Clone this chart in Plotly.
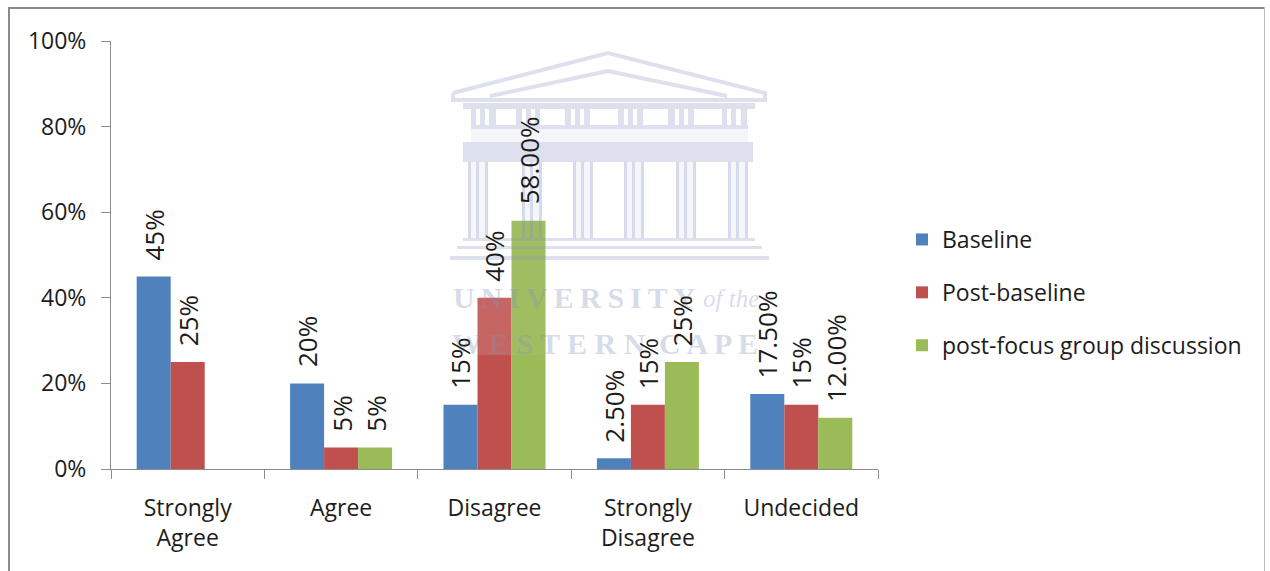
import plotly.graph_objects as go

categories = ["Strongly<br>Agree", "Agree", "Disagree", "Strongly<br>Disagree", "Undecided"]
baseline = [45, 20, 15, 2.5, 17.5]
post_baseline = [25, 5, 40, 15, 15]
post_focus = [None, 5, 58, 25, 12]
baseline_labels = ["45%", "20%", "15%", "2.50%", "17.50%"]
post_baseline_labels = ["25%", "5%", "40%", "15%", "15%"]
post_focus_labels = ["", "5%", "58.00%", "25%", "12.00%"]
y_ticks = [0, 20, 40, 60, 80, 100]
y_tick_labels = ["0%", "20%", "40%", "60%", "80%", "100%"]
series_names = ["Baseline", "Post-baseline", "post-focus group discussion"]
series_colors = ["#4F81BD", "#C0504D", "#9BBB59"]

W, H = 1270, 571
L, R, T, B = 111, 878, 41, 469
FONT = "Open Sans"
TXT = "#1c1c1c"
BARGAP = 0.335

def px(x):
    return (x - L) / (R - L)

def py(y):
    return (B - y) / (B - T)

all_vals = [baseline, post_baseline, post_focus]
all_labs = [baseline_labels, post_baseline_labels, post_focus_labels]

fig = go.Figure()
for name, vals, col in zip(series_names, all_vals, series_colors):
    fig.add_trace(go.Bar(name=name, legendgroup=name, x=categories, y=vals,
                         marker=dict(color=col, line=dict(width=0))))

WM = "rgba(130,142,190,0.27)"
WM_PALE = "rgba(130,142,190,0.08)"
shapes = []

def rect(x0, y0, x1, y1, color=WM):
    shapes.append(dict(type="rect", xref="paper", yref="paper", x0=px(x0), x1=px(x1), y0=py(y0), y1=py(y1),
                       fillcolor=color, line=dict(width=0), layer="above"))

def poly(pts, width=3):
    path = "M " + " L ".join(f"{px(a):.5f} {py(b):.5f}" for a, b in pts)
    shapes.append(dict(type="path", xref="paper", yref="paper", path=path,
                       line=dict(color=WM, width=width), layer="above"))

# outer picture frame
for x0, y0, x1, y1, c in [(8, 7, 1265, 9, "#8a8a8a"), (8, 7, 10, 571, "#8a8a8a"), (1264, 7, 1265, 571, "#bdbdbd")]:
    shapes.append(dict(type="rect", xref="paper", yref="paper", x0=px(x0), x1=px(x1), y0=py(y0), y1=py(y1),
                       fillcolor=c, line=dict(width=0), layer="below"))

# watermark: pediment
poly([(453, 93), (608, 53), (765, 93), (765, 100), (453, 100), (453, 93)], 4)
poly([(490, 96), (608, 71), (727, 96)], 4)
rect(463, 103, 755, 109)
# frieze
for x0, x1 in [(471, 476), (480, 485), (489, 496), (516, 522), (526, 531), (535, 540), (565, 571), (575, 580), (584, 590),
               (618, 624), (628, 633), (637, 643), (668, 675), (679, 684), (688, 694), (722, 727), (731, 736), (741, 747)]:
    rect(x0, 109, x1, 125)
rect(471, 125, 748, 129)
rect(471, 129, 748, 142, WM_PALE)
# capital band
rect(463, 142, 753, 162)
# columns
for cx in [478, 532, 583, 634, 686, 738]:
    rect(cx - 10, 162, cx + 10, 238, WM_PALE)
    rect(cx - 10, 162, cx - 7, 238)
    rect(cx - 2, 162, cx + 1, 238)
    rect(cx + 7, 162, cx + 10, 238)
# steps
rect(463, 238, 755, 241)
rect(457, 246, 762, 249)
rect(450, 256, 769, 260)
# lighter veil of the watermark image over the bars
rect(440, 262, 511, 355, "rgba(255,255,255,0.12)")
rect(511, 50, 770, 355, "rgba(255,255,255,0.05)")

WM_TXT = "rgba(130,142,190,0.32)"
annotations = [
    dict(text="<b>U\u2009N\u2009I\u2009V\u2009E\u2009R\u2009S\u2009I\u2009T\u2009Y</b>", x=px(451), y=py(297),
         xanchor="left", yanchor="middle", font=dict(family="Liberation Serif", size=30, color=WM_TXT)),
    dict(text="<i>of the</i>", x=px(701), y=py(298), xanchor="left", yanchor="middle",
         font=dict(family="Liberation Serif", size=25, color=WM_TXT)),
    dict(text="<b>W E S T E R N \u2009C A P E</b>", x=px(450), y=py(343), xanchor="left", yanchor="middle",
         font=dict(family="Liberation Serif", size=30, color=WM_TXT)),
]
for a in annotations:
    a.update(xref="paper", yref="paper", showarrow=False)

# value labels: anchored on each bar's category and value, lifted clear of the bar top
bar_px = (R - L) / len(categories) * (1 - BARGAP) / len(all_vals)
for s, (vals, labs) in enumerate(zip(all_vals, all_labs)):
    for cat, v, lab in zip(categories, vals, labs):
        if v is None:
            continue
        annotations.append(dict(xref="x", yref="y", x=cat, y=v, text=lab, showarrow=False, textangle=-90,
                                xanchor="center", yanchor="bottom", xshift=(s - 1) * bar_px, yshift=14,
                                font=dict(family=FONT, size=26, color=TXT)))

fig.update_layout(
    width=W, height=H, margin=dict(l=L, r=W - R, t=T, b=H - B, autoexpand=False),
    paper_bgcolor="white", plot_bgcolor="white",
    barmode="group", bargap=BARGAP, bargroupgap=0,
    font=dict(family=FONT, size=23, color=TXT),
    showlegend=True,
    legend=dict(x=px(902), y=py(218), xanchor="left", yanchor="top", font=dict(family=FONT, size=23, color=TXT),
                itemsizing="constant", traceorder="grouped", tracegroupgap=20, bgcolor="rgba(0,0,0,0)", itemwidth=30),
    shapes=shapes, annotations=annotations,
)
fig.update_xaxes(tickson="boundaries", ticks="outside", ticklen=9, tickcolor="#8c8c8c", tickwidth=1,
                 linecolor="#8c8c8c", linewidth=1, showgrid=False, showline=True, ticklabelstandoff=18,
                 tickfont=dict(family=FONT, size=23, color=TXT), automargin=False, zeroline=False)
fig.update_yaxes(range=[0, 100], tickvals=y_ticks, ticktext=y_tick_labels, ticks="outside", ticklen=9,
                 tickcolor="#8c8c8c", tickwidth=1, linecolor="#8c8c8c", linewidth=1, showline=True, showgrid=False,
                 ticklabelstandoff=10, tickfont=dict(family=FONT, size=23, color=TXT), automargin=False, zeroline=False)

fig.write_html("out.html", config={"displayModeBar": False},
               post_script="document.body.style.margin='0';document.body.style.overflow='hidden';")
